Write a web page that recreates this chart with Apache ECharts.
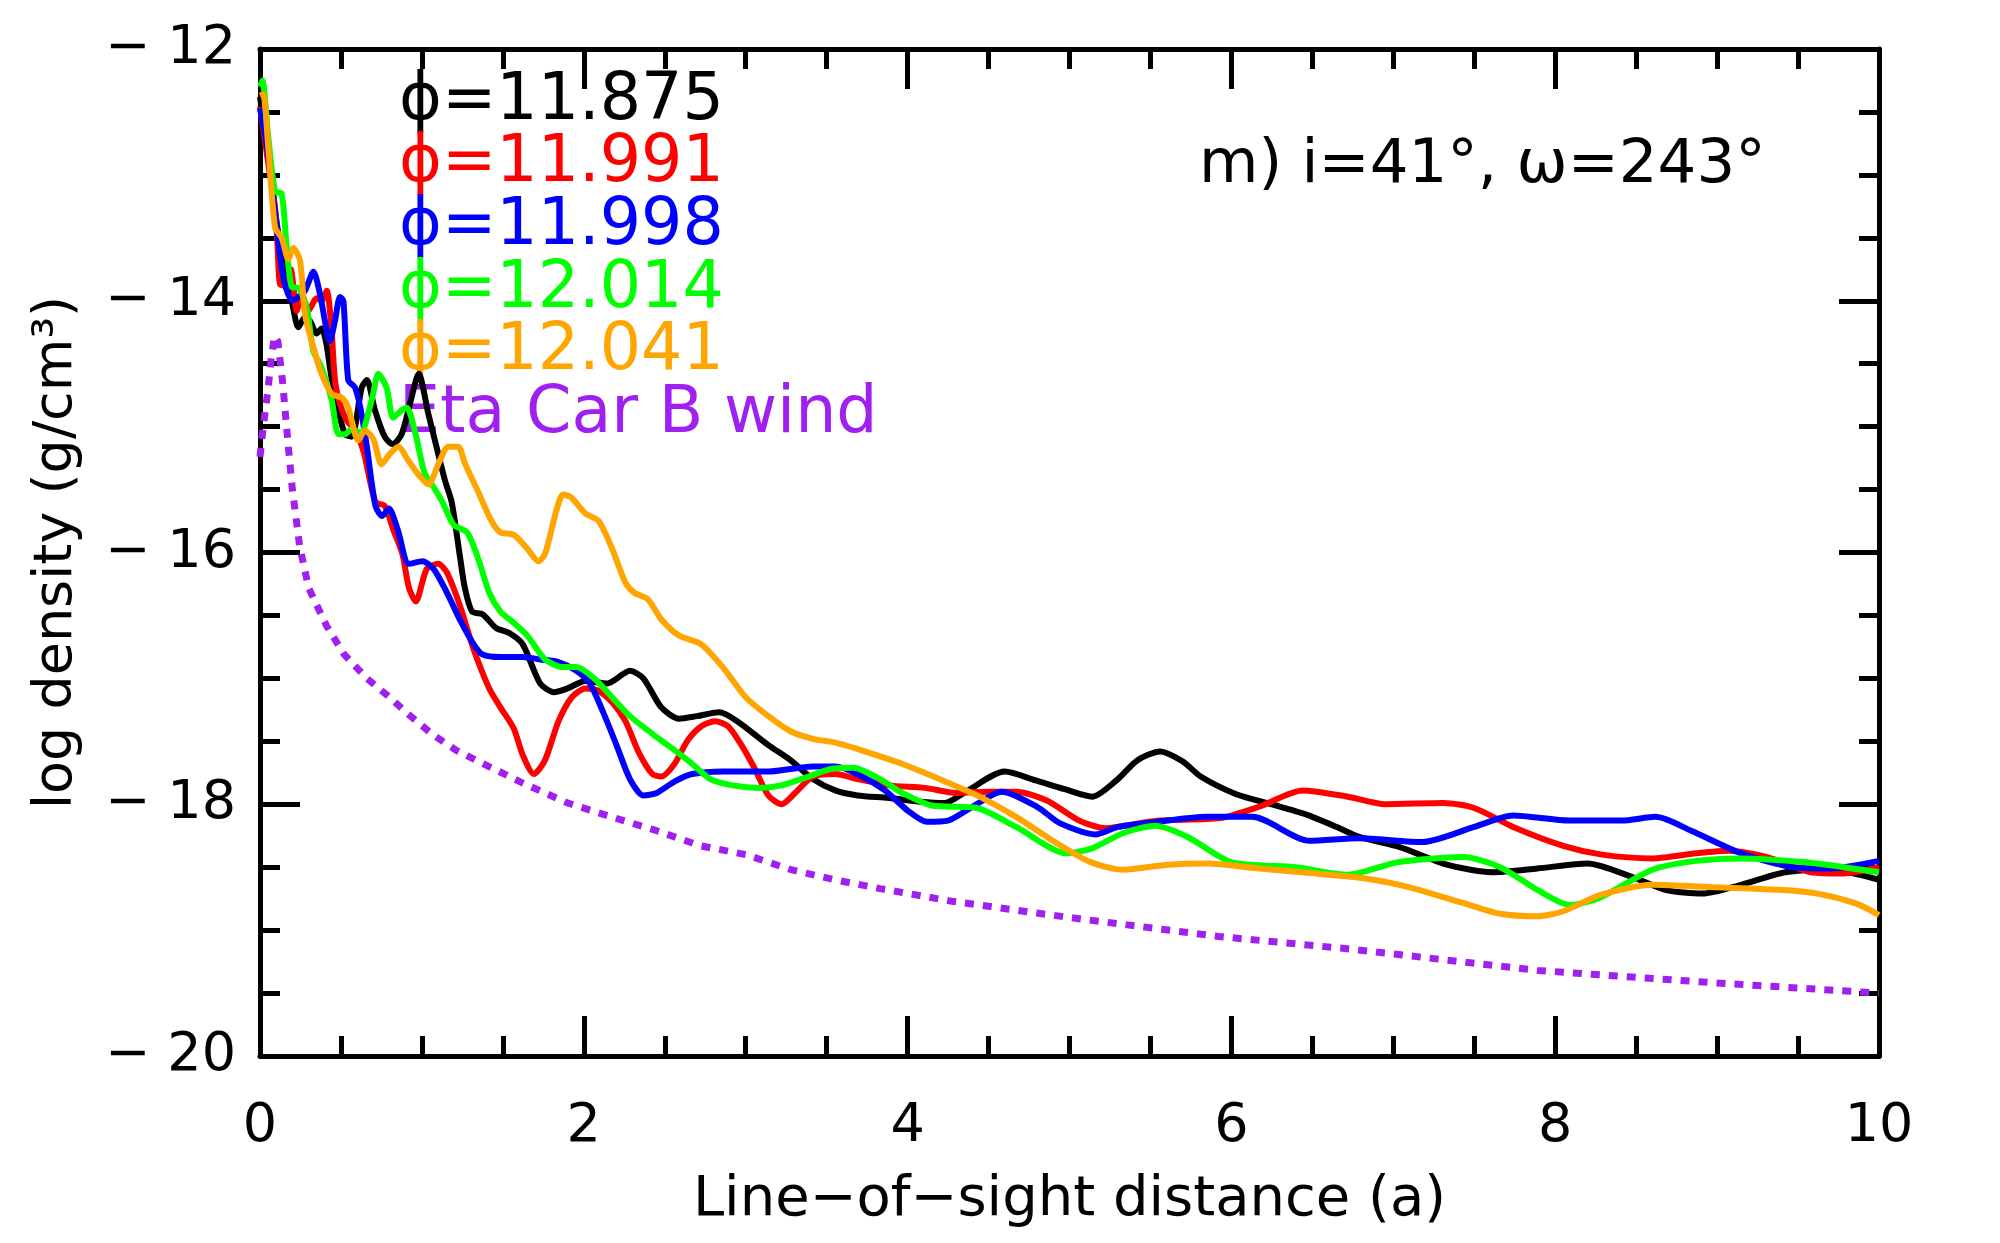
<!DOCTYPE html>
<html>
<head>
<meta charset="utf-8">
<script src="https://cdn.jsdelivr.net/npm/echarts@6/dist/echarts.min.js"></script>
<style>
  html, body { margin: 0; padding: 0; background: #fff; }
  #chart { width: 2000px; height: 1243px; }
</style>
</head>
<body>
<div id="chart"></div>
<script>
  // line-of-sight density profiles, values as [x, log rho]
  const phi11875 = [[0,-12.38],[0.05,-12.85],[0.1,-13.35],[0.15,-13.75],[0.196,-14.0],[0.237,-14.21],[0.278,-14.13],[0.309,-14.16],[0.35,-14.26],[0.38,-14.22],[0.41,-14.34],[0.44,-14.6],[0.48,-14.85],[0.525,-15.06],[0.566,-15.08],[0.628,-14.69],[0.66,-14.63],[0.71,-14.87],[0.77,-15.08],[0.82,-15.14],[0.875,-15.06],[0.93,-14.8],[0.98,-14.58],[1.04,-14.9],[1.09,-15.16],[1.143,-15.43],[1.184,-15.6],[1.237,-16.05],[1.265,-16.28],[1.31,-16.47],[1.375,-16.49],[1.458,-16.6],[1.54,-16.64],[1.623,-16.73],[1.73,-17.04],[1.816,-17.11],[1.899,-17.08],[2.01,-17.02],[2.147,-17.04],[2.285,-16.94],[2.368,-17.0],[2.478,-17.23],[2.588,-17.32],[2.699,-17.3],[2.836,-17.27],[2.947,-17.34],[3.14,-17.53],[3.277,-17.65],[3.415,-17.8],[3.553,-17.89],[3.691,-17.93],[3.884,-17.95],[4.08,-17.98],[4.23,-17.99],[4.36,-17.9],[4.6,-17.74],[4.79,-17.81],[4.97,-17.88],[5.14,-17.94],[5.29,-17.81],[5.42,-17.65],[5.56,-17.58],[5.7,-17.66],[5.81,-17.78],[6.03,-17.92],[6.25,-18.0],[6.46,-18.08],[6.65,-18.18],[6.79,-18.26],[7.04,-18.34],[7.33,-18.48],[7.61,-18.54],[7.89,-18.51],[8.2,-18.47],[8.48,-18.58],[8.68,-18.68],[8.91,-18.71],[9.15,-18.64],[9.42,-18.54],[9.7,-18.52],[10,-18.6]];
  const phi11991 = [[0,-12.46],[0.05,-12.9],[0.093,-13.26],[0.11,-13.6],[0.124,-13.87],[0.165,-13.88],[0.19,-13.75],[0.227,-14.08],[0.257,-13.95],[0.298,-14.08],[0.35,-13.98],[0.38,-14.0],[0.412,-13.92],[0.44,-14.2],[0.463,-14.63],[0.494,-14.82],[0.535,-14.95],[0.587,-15.03],[0.64,-15.2],[0.713,-15.6],[0.77,-15.63],[0.824,-15.82],[0.879,-16.01],[0.92,-16.28],[0.962,-16.39],[1.03,-16.13],[1.1,-16.09],[1.155,-16.16],[1.237,-16.43],[1.32,-16.77],[1.416,-17.08],[1.485,-17.23],[1.568,-17.4],[1.623,-17.61],[1.692,-17.76],[1.76,-17.65],[1.844,-17.34],[1.926,-17.15],[2.01,-17.08],[2.092,-17.1],[2.175,-17.19],[2.257,-17.34],[2.34,-17.59],[2.423,-17.76],[2.478,-17.78],[2.56,-17.68],[2.643,-17.49],[2.726,-17.38],[2.809,-17.34],[2.891,-17.38],[2.974,-17.53],[3.057,-17.72],[3.14,-17.93],[3.222,-18.0],[3.305,-17.91],[3.415,-17.78],[3.553,-17.76],[3.691,-17.8],[3.884,-17.85],[4.105,-17.87],[4.3,-17.91],[4.5,-17.9],[4.67,-17.9],[4.86,-17.97],[5.06,-18.13],[5.22,-18.19],[5.54,-18.13],[5.93,-18.11],[6.17,-18.02],[6.44,-17.89],[6.72,-17.94],[6.95,-18.0],[7.31,-17.99],[7.5,-18.03],[7.74,-18.18],[8.05,-18.33],[8.29,-18.4],[8.6,-18.43],[8.87,-18.39],[9.07,-18.37],[9.31,-18.42],[9.58,-18.54],[9.78,-18.55],[10,-18.5]];
  const phi11998 = [[0,-12.47],[0.04,-12.75],[0.072,-13.05],[0.11,-13.5],[0.15,-13.85],[0.2,-14.0],[0.237,-13.97],[0.278,-13.92],[0.33,-13.77],[0.371,-13.95],[0.432,-14.32],[0.463,-14.16],[0.494,-13.97],[0.515,-14.0],[0.545,-14.63],[0.587,-14.69],[0.62,-14.85],[0.658,-15.14],[0.713,-15.63],[0.755,-15.71],[0.796,-15.65],[0.851,-15.82],[0.92,-16.09],[1.003,-16.07],[1.072,-16.13],[1.155,-16.32],[1.237,-16.54],[1.32,-16.73],[1.375,-16.81],[1.485,-16.83],[1.623,-16.83],[1.73,-16.85],[1.844,-16.87],[1.954,-16.94],[2.037,-17.04],[2.12,-17.27],[2.202,-17.53],[2.285,-17.8],[2.368,-17.93],[2.45,-17.91],[2.56,-17.82],[2.67,-17.76],[2.864,-17.74],[3.14,-17.74],[3.415,-17.7],[3.553,-17.7],[3.69,-17.76],[3.86,-17.89],[4.0,-18.05],[4.12,-18.14],[4.25,-18.13],[4.4,-18.02],[4.58,-17.9],[4.8,-18.02],[4.94,-18.15],[5.16,-18.24],[5.3,-18.18],[5.54,-18.14],[5.85,-18.1],[6.13,-18.1],[6.48,-18.29],[6.79,-18.27],[7.18,-18.3],[7.5,-18.18],[7.74,-18.09],[8.09,-18.13],[8.41,-18.13],[8.62,-18.1],[8.84,-18.21],[9.15,-18.39],[9.47,-18.5],[9.7,-18.51],[10,-18.45]];
  const phi12014 = [[0,-12.3],[0.015,-12.25],[0.051,-12.7],[0.093,-13.13],[0.134,-13.15],[0.165,-13.58],[0.196,-13.89],[0.24,-13.9],[0.288,-14.05],[0.33,-14.4],[0.38,-14.53],[0.443,-14.79],[0.484,-15.06],[0.525,-15.06],[0.566,-15.02],[0.62,-15.05],[0.69,-14.79],[0.731,-14.58],[0.782,-14.69],[0.823,-14.93],[0.875,-14.87],[0.907,-14.85],[0.961,-15.06],[1.017,-15.37],[1.072,-15.48],[1.127,-15.6],[1.196,-15.78],[1.279,-15.84],[1.348,-16.05],[1.416,-16.32],[1.485,-16.47],[1.568,-16.56],[1.651,-16.66],[1.761,-16.85],[1.871,-16.91],[1.954,-16.91],[2.064,-17.0],[2.175,-17.15],[2.285,-17.3],[2.423,-17.44],[2.56,-17.57],[2.67,-17.68],[2.781,-17.8],[2.919,-17.85],[3.085,-17.87],[3.222,-17.85],[3.388,-17.78],[3.526,-17.72],[3.664,-17.71],[3.829,-17.8],[3.967,-17.91],[4.15,-18.01],[4.43,-18.03],[4.67,-18.18],[4.98,-18.39],[5.14,-18.35],[5.33,-18.23],[5.53,-18.17],[5.73,-18.26],[6.0,-18.46],[6.4,-18.5],[6.72,-18.56],[7.03,-18.46],[7.43,-18.42],[7.66,-18.5],[7.89,-18.68],[8.09,-18.8],[8.28,-18.74],[8.6,-18.52],[8.87,-18.45],[9.15,-18.43],[9.55,-18.46],[9.78,-18.5],[10,-18.54]];
  const phi12041 = [[0,-12.37],[0.02,-12.36],[0.051,-12.78],[0.093,-13.42],[0.134,-13.5],[0.175,-13.67],[0.206,-13.58],[0.247,-13.68],[0.278,-14.11],[0.33,-14.37],[0.38,-14.58],[0.443,-14.74],[0.505,-14.77],[0.545,-14.85],[0.607,-15.11],[0.648,-15.03],[0.7,-15.1],[0.751,-15.3],[0.8,-15.22],[0.854,-15.16],[0.916,-15.27],[0.978,-15.38],[1.04,-15.46],[1.101,-15.3],[1.163,-15.16],[1.225,-15.16],[1.265,-15.29],[1.348,-15.52],[1.43,-15.75],[1.485,-15.84],[1.568,-15.86],[1.651,-15.97],[1.72,-16.07],[1.761,-16.01],[1.83,-15.67],[1.871,-15.54],[1.92,-15.56],[2.01,-15.69],[2.092,-15.75],[2.175,-15.97],[2.257,-16.24],[2.313,-16.32],[2.395,-16.37],[2.478,-16.53],[2.588,-16.66],[2.726,-16.73],[2.864,-16.92],[3.0,-17.15],[3.14,-17.3],[3.277,-17.42],[3.415,-17.48],[3.553,-17.51],[3.69,-17.56],[3.83,-17.62],[3.967,-17.68],[4.105,-17.75],[4.25,-17.83],[4.43,-17.93],[4.67,-18.1],[4.91,-18.3],[5.13,-18.46],[5.33,-18.52],[5.61,-18.48],[5.85,-18.47],[6.17,-18.51],[6.52,-18.55],[6.83,-18.59],[7.1,-18.66],[7.42,-18.78],[7.66,-18.87],[7.89,-18.89],[8.05,-18.85],[8.28,-18.72],[8.6,-18.64],[8.99,-18.66],[9.38,-18.68],[9.62,-18.71],[9.86,-18.79],[10,-18.88]];
  const bWind = [[0,-15.24],[0.02,-15.0],[0.05,-14.7],[0.07,-14.45],[0.09,-14.28],[0.11,-14.32],[0.14,-14.65],[0.175,-15.16],[0.2,-15.5],[0.245,-15.95],[0.3,-16.28],[0.41,-16.58],[0.52,-16.81],[0.66,-17.0],[0.8,-17.15],[0.93,-17.3],[1.07,-17.45],[1.21,-17.57],[1.35,-17.66],[1.62,-17.83],[1.9,-17.99],[2.17,-18.1],[2.45,-18.21],[2.72,-18.33],[3.0,-18.4],[3.28,-18.52],[3.55,-18.6],[3.83,-18.67],[4.27,-18.77],[5.0,-18.9],[5.92,-19.05],[6.73,-19.15],[7.89,-19.32],[9.0,-19.42],[10,-19.5]];

  const seriesNames = ['\u03D5=11.875', '\u03D5=11.991', '\u03D5=11.998', '\u03D5=12.014', '\u03D5=12.041', 'Eta Car B wind'];
  const seriesColors = ['#000000', '#ff0000', '#0000ff', '#00ff00', '#ffa500', '#a020f0'];
  const seriesData = [phi11875, phi11991, phi11998, phi12014, phi12041, bWind];
  const xTicks = { min: 0, max: 10, interval: 2 };
  const yTicks = { min: -20, max: -12, interval: 2 };

  const FONT = '"DejaVu Sans", sans-serif';

  function frameAxis(pos, isX, showLabel) {
    return {
      type: 'value',
      position: pos,
      min: isX ? xTicks.min : yTicks.min,
      max: isX ? xTicks.max : yTicks.max,
      interval: isX ? xTicks.interval : yTicks.interval,
      axisLine: { show: true, onZero: false, lineStyle: { color: '#000', width: 5 } },
      axisTick: { show: true, inside: true, length: 40, lineStyle: { color: '#000', width: 5 } },
      minorTick: { show: true, splitNumber: 4, length: 20, lineStyle: { color: '#000', width: 5 } },
      splitLine: { show: false },
      axisLabel: {
        show: showLabel,
        showMinLabel: true,
        showMaxLabel: true,
        color: '#000',
        fontSize: 54,
        fontFamily: FONT,
        margin: isX ? 44 : 24,
        formatter: function (v) { return String(v).replace('-', '\u2212 '); }
      }
    };
  }

  const xBottom = frameAxis('bottom', true, true);
  xBottom.name = 'Line\u2212of\u2212sight distance (a)';
  xBottom.nameLocation = 'middle';
  xBottom.nameGap = 116;
  xBottom.nameTextStyle = { color: '#000', fontSize: 56, fontFamily: FONT };
  const yLeft = frameAxis('left', false, true);
  yLeft.name = 'log density (g/cm\u00B3)';
  yLeft.nameLocation = 'middle';
  yLeft.nameGap = 176;
  yLeft.nameTextStyle = { color: '#000', fontSize: 54, fontFamily: FONT };

  const series = seriesData.map(function (d, i) {
    const isWind = i === 5;
    return {
      name: seriesNames[i],
      type: 'line',
      data: d,
      showSymbol: false,
      smooth: isWind ? false : 0.25,
      animation: false,
      z: isWind ? 3 : 2,
      lineStyle: {
        color: seriesColors[i],
        width: isWind ? 7 : 6,
        type: isWind ? [9, 9] : 'solid',
        cap: 'butt'
      }
    };
  });

  // legend rows + panel tag as plain text
  const legendTop = 102, legendStep = 62.6;
  const graphic = seriesNames.map(function (n, i) {
    return {
      type: 'text',
      x: 399,
      y: legendTop + i * legendStep,
      style: { text: n, fill: seriesColors[i], font: '65px ' + FONT, verticalAlign: 'middle', align: 'left' }
    };
  });
  graphic.push({
    type: 'text',
    x: 1199,
    y: 166,
    style: { text: 'm) i=41\u00B0, \u03C9=243\u00B0', fill: '#000', font: '61px ' + FONT, verticalAlign: 'middle', align: 'left' }
  });

  const option = {
    animation: false,
    backgroundColor: '#fff',
    grid: { left: 260, right: 121, top: 49, bottom: 187, containLabel: false },
    xAxis: [xBottom, frameAxis('top', true, false)],
    yAxis: [yLeft, frameAxis('right', false, false)],
    graphic: graphic,
    series: series
  };

  const chartObj = echarts.init(document.getElementById('chart'));
  chartObj.setOption(option);
</script>
</body>
</html>
